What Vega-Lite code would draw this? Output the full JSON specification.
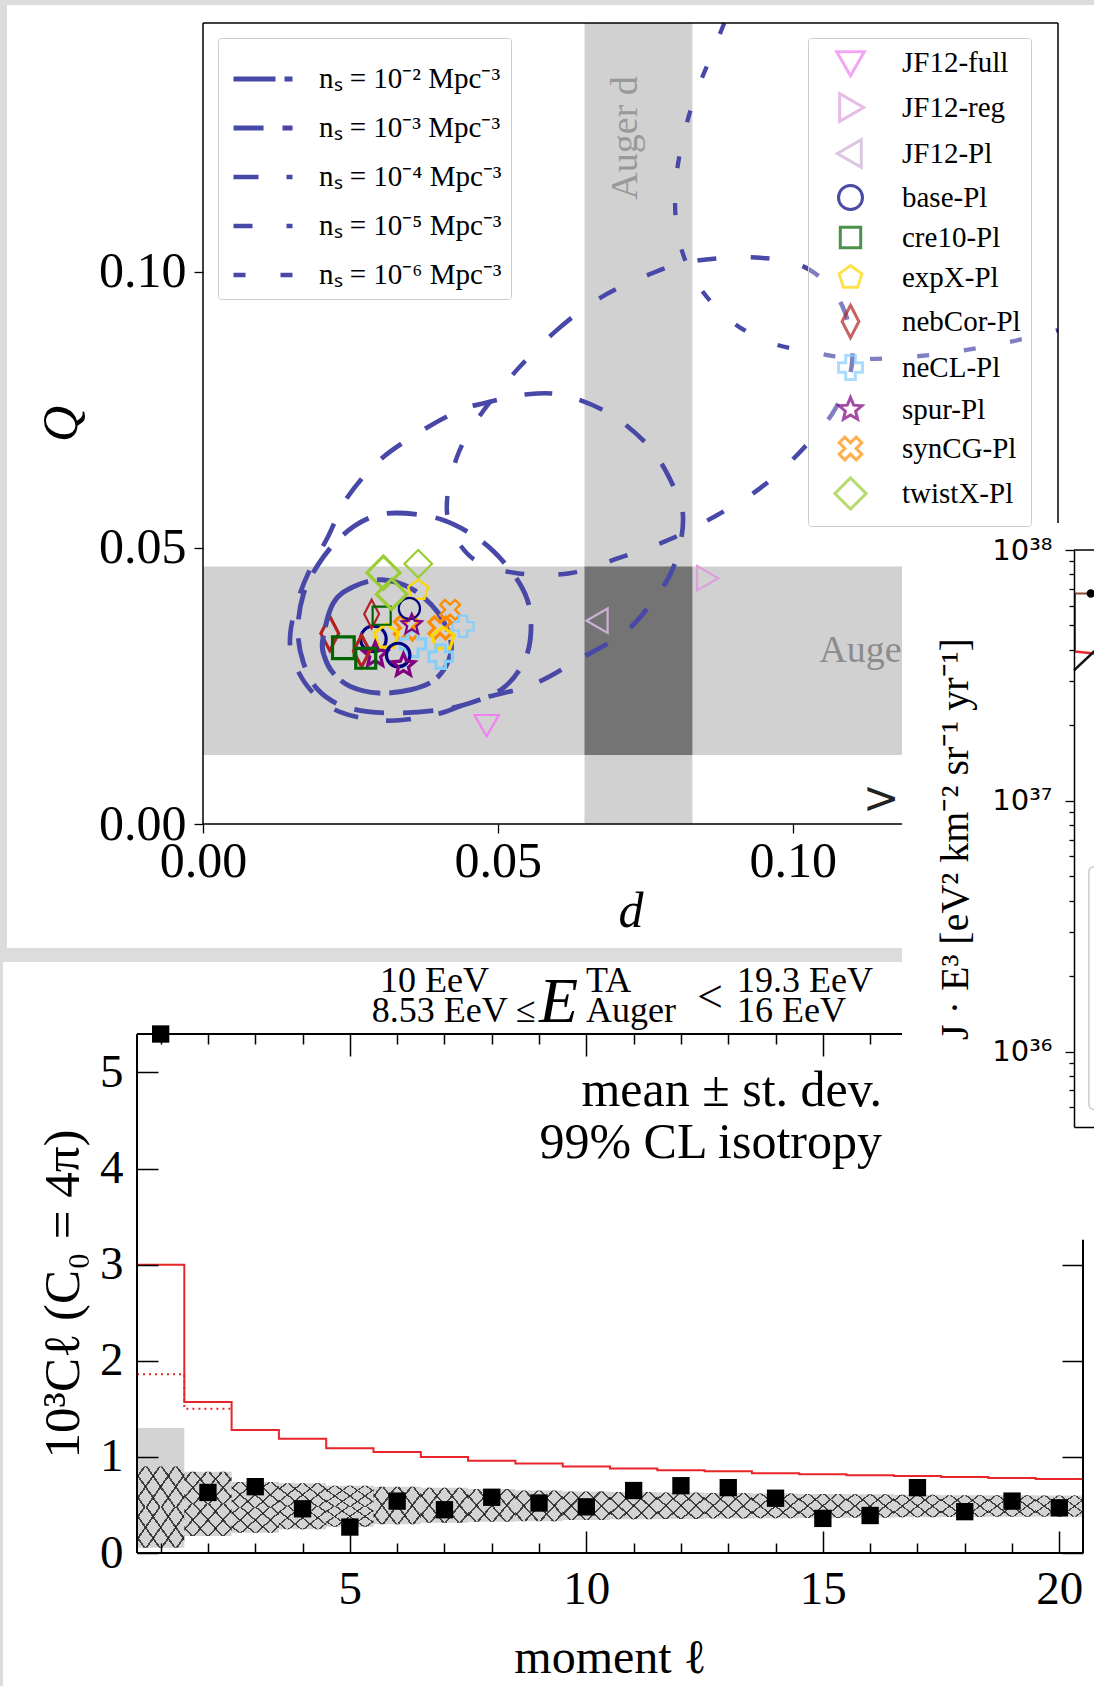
{
"$schema":"https://vega.github.io/schema/vega-lite/v6.json",
"width":1094,"height":1686,"autosize":"none","padding":0,"background":"white",
"config":{"view":{"stroke":null},"font":"Liberation Serif","axis":{"grid":false,"labelColor":"black","tickColor":"black","domainColor":"black","titleColor":"black","titleFontWeight":"normal","labelFont":"Liberation Serif","titleFont":"Liberation Serif"}},
"datasets":{
"models":[
{"model":"twistX-Pl","set":"c","x":0.0306,"y":0.0455},
{"model":"twistX-Pl","set":"a","x":0.0365,"y":0.0471},
{"model":"twistX-Pl","set":"b","x":0.0320,"y":0.0416},
{"model":"expX-Pl","set":"a","x":0.0365,"y":0.0423},
{"model":"base-Pl","set":"a","x":0.0350,"y":0.0390},
{"model":"nebCor-Pl","set":"a","x":0.0286,"y":0.0380},
{"model":"cre10-Pl","set":"a","x":0.0303,"y":0.0377},
{"model":"spur-Pl","set":"a","x":0.0354,"y":0.0361},
{"model":"synCG-Pl","set":"c","x":0.0345,"y":0.0355},
{"model":"synCG-Pl","set":"a","x":0.0419,"y":0.0388},
{"model":"synCG-Pl","set":"b","x":0.0402,"y":0.0355},
{"model":"neCL-Pl","set":"a","x":0.0441,"y":0.0358},
{"model":"nebCor-Pl","set":"c","x":0.0215,"y":0.0345},
{"model":"cre10-Pl","set":"c","x":0.0238,"y":0.0319},
{"model":"base-Pl","set":"c","x":0.0289,"y":0.0335},
{"model":"expX-Pl","set":"c","x":0.0311,"y":0.0339},
{"model":"neCL-Pl","set":"c","x":0.0356,"y":0.0326},
{"model":"nebCor-Pl","set":"b","x":0.0269,"y":0.0313},
{"model":"cre10-Pl","set":"b","x":0.0276,"y":0.0300},
{"model":"spur-Pl","set":"c","x":0.0292,"y":0.0306},
{"model":"base-Pl","set":"b","x":0.0331,"y":0.0306},
{"model":"spur-Pl","set":"b","x":0.0340,"y":0.0287},
{"model":"expX-Pl","set":"b","x":0.0407,"y":0.0335},
{"model":"neCL-Pl","set":"b","x":0.0403,"y":0.0303},
{"model":"JF12-full","set":"a","x":0.0481,"y":0.0180},
{"model":"JF12-Pl","set":"a","x":0.0670,"y":0.0368},
{"model":"JF12-reg","set":"a","x":0.0854,"y":0.0445}
],
"loops":[
{"ns":"nₛ = 10⁻² Mpc⁻³","i":0,"x":0.0203,"y":0.0333},
{"ns":"nₛ = 10⁻² Mpc⁻³","i":1,"x":0.0221,"y":0.0400},
{"ns":"nₛ = 10⁻² Mpc⁻³","i":2,"x":0.0256,"y":0.0430},
{"ns":"nₛ = 10⁻² Mpc⁻³","i":3,"x":0.0304,"y":0.0442},
{"ns":"nₛ = 10⁻² Mpc⁻³","i":4,"x":0.0357,"y":0.0424},
{"ns":"nₛ = 10⁻² Mpc⁻³","i":5,"x":0.0399,"y":0.0382},
{"ns":"nₛ = 10⁻² Mpc⁻³","i":6,"x":0.0420,"y":0.0333},
{"ns":"nₛ = 10⁻² Mpc⁻³","i":7,"x":0.0417,"y":0.0297},
{"ns":"nₛ = 10⁻² Mpc⁻³","i":8,"x":0.0393,"y":0.0261},
{"ns":"nₛ = 10⁻² Mpc⁻³","i":9,"x":0.0352,"y":0.0243},
{"ns":"nₛ = 10⁻² Mpc⁻³","i":10,"x":0.0298,"y":0.0237},
{"ns":"nₛ = 10⁻² Mpc⁻³","i":11,"x":0.0250,"y":0.0249},
{"ns":"nₛ = 10⁻² Mpc⁻³","i":12,"x":0.0221,"y":0.0273},
{"ns":"nₛ = 10⁻² Mpc⁻³","i":13,"x":0.0206,"y":0.0303},
{"ns":"nₛ = 10⁻³ Mpc⁻³","i":0,"x":0.0327,"y":0.0563},
{"ns":"nₛ = 10⁻³ Mpc⁻³","i":1,"x":0.0402,"y":0.0552},
{"ns":"nₛ = 10⁻³ Mpc⁻³","i":2,"x":0.0470,"y":0.0514},
{"ns":"nₛ = 10⁻³ Mpc⁻³","i":3,"x":0.0521,"y":0.0460},
{"ns":"nₛ = 10⁻³ Mpc⁻³","i":4,"x":0.0550,"y":0.0406},
{"ns":"nₛ = 10⁻³ Mpc⁻³","i":5,"x":0.0556,"y":0.0346},
{"ns":"nₛ = 10⁻³ Mpc⁻³","i":6,"x":0.0544,"y":0.0293},
{"ns":"nₛ = 10⁻³ Mpc⁻³","i":7,"x":0.0509,"y":0.0246},
{"ns":"nₛ = 10⁻³ Mpc⁻³","i":8,"x":0.0453,"y":0.0219},
{"ns":"nₛ = 10⁻³ Mpc⁻³","i":9,"x":0.0397,"y":0.0206},
{"ns":"nₛ = 10⁻³ Mpc⁻³","i":10,"x":0.0310,"y":0.0201},
{"ns":"nₛ = 10⁻³ Mpc⁻³","i":11,"x":0.0241,"y":0.0212},
{"ns":"nₛ = 10⁻³ Mpc⁻³","i":12,"x":0.0195,"y":0.0243},
{"ns":"nₛ = 10⁻³ Mpc⁻³","i":13,"x":0.0170,"y":0.0293},
{"ns":"nₛ = 10⁻³ Mpc⁻³","i":14,"x":0.0161,"y":0.0351},
{"ns":"nₛ = 10⁻³ Mpc⁻³","i":15,"x":0.0170,"y":0.0415},
{"ns":"nₛ = 10⁻³ Mpc⁻³","i":16,"x":0.0195,"y":0.0469},
{"ns":"nₛ = 10⁻³ Mpc⁻³","i":17,"x":0.0232,"y":0.0518},
{"ns":"nₛ = 10⁻³ Mpc⁻³","i":18,"x":0.0278,"y":0.0552},
{"ns":"nₛ = 10⁻⁴ Mpc⁻³","i":0,"x":0.0478,"y":0.0762},
{"ns":"nₛ = 10⁻⁴ Mpc⁻³","i":1,"x":0.0550,"y":0.0778},
{"ns":"nₛ = 10⁻⁴ Mpc⁻³","i":2,"x":0.0616,"y":0.0775},
{"ns":"nₛ = 10⁻⁴ Mpc⁻³","i":3,"x":0.0695,"y":0.0739},
{"ns":"nₛ = 10⁻⁴ Mpc⁻³","i":4,"x":0.0763,"y":0.0675},
{"ns":"nₛ = 10⁻⁴ Mpc⁻³","i":5,"x":0.0804,"y":0.0597},
{"ns":"nₛ = 10⁻⁴ Mpc⁻³","i":6,"x":0.0814,"y":0.0558},
{"ns":"nₛ = 10⁻⁴ Mpc⁻³","i":7,"x":0.0809,"y":0.0505},
{"ns":"nₛ = 10⁻⁴ Mpc⁻³","i":8,"x":0.0792,"y":0.0451},
{"ns":"nₛ = 10⁻⁴ Mpc⁻³","i":9,"x":0.0758,"y":0.0396},
{"ns":"nₛ = 10⁻⁴ Mpc⁻³","i":10,"x":0.0712,"y":0.0344},
{"ns":"nₛ = 10⁻⁴ Mpc⁻³","i":11,"x":0.0639,"y":0.0299},
{"ns":"nₛ = 10⁻⁴ Mpc⁻³","i":12,"x":0.0560,"y":0.0253},
{"ns":"nₛ = 10⁻⁴ Mpc⁻³","i":13,"x":0.0465,"y":0.0225},
{"ns":"nₛ = 10⁻⁴ Mpc⁻³","i":14,"x":0.0397,"y":0.0199},
{"ns":"nₛ = 10⁻⁴ Mpc⁻³","i":15,"x":0.0312,"y":0.0187},
{"ns":"nₛ = 10⁻⁴ Mpc⁻³","i":16,"x":0.0232,"y":0.0203},
{"ns":"nₛ = 10⁻⁴ Mpc⁻³","i":17,"x":0.0182,"y":0.0243},
{"ns":"nₛ = 10⁻⁴ Mpc⁻³","i":18,"x":0.0153,"y":0.0297},
{"ns":"nₛ = 10⁻⁴ Mpc⁻³","i":19,"x":0.0148,"y":0.0344},
{"ns":"nₛ = 10⁻⁴ Mpc⁻³","i":20,"x":0.0161,"y":0.0406},
{"ns":"nₛ = 10⁻⁴ Mpc⁻³","i":21,"x":0.0182,"y":0.0462},
{"ns":"nₛ = 10⁻⁴ Mpc⁻³","i":22,"x":0.0212,"y":0.0520},
{"ns":"nₛ = 10⁻⁴ Mpc⁻³","i":23,"x":0.0244,"y":0.0590},
{"ns":"nₛ = 10⁻⁴ Mpc⁻³","i":24,"x":0.0300,"y":0.0659},
{"ns":"nₛ = 10⁻⁴ Mpc⁻³","i":25,"x":0.0373,"y":0.0713},
{"ns":"nₛ = 10⁻⁴ Mpc⁻³","i":26,"x":0.0436,"y":0.0749},
{"ns":"nₛ = 10⁻⁵ Mpc⁻³","i":0,"x":0.0529,"y":0.0818},
{"ns":"nₛ = 10⁻⁵ Mpc⁻³","i":1,"x":0.0600,"y":0.0894},
{"ns":"nₛ = 10⁻⁵ Mpc⁻³","i":2,"x":0.0673,"y":0.0952},
{"ns":"nₛ = 10⁻⁵ Mpc⁻³","i":3,"x":0.0755,"y":0.0994},
{"ns":"nₛ = 10⁻⁵ Mpc⁻³","i":4,"x":0.0831,"y":0.1019},
{"ns":"nₛ = 10⁻⁵ Mpc⁻³","i":5,"x":0.0945,"y":0.1025},
{"ns":"nₛ = 10⁻⁵ Mpc⁻³","i":6,"x":0.1029,"y":0.1003},
{"ns":"nₛ = 10⁻⁵ Mpc⁻³","i":7,"x":0.1085,"y":0.0936},
{"ns":"nₛ = 10⁻⁵ Mpc⁻³","i":8,"x":0.1101,"y":0.0838},
{"ns":"nₛ = 10⁻⁵ Mpc⁻³","i":9,"x":0.1072,"y":0.0751},
{"ns":"nₛ = 10⁻⁵ Mpc⁻³","i":10,"x":0.1012,"y":0.0673},
{"ns":"nₛ = 10⁻⁵ Mpc⁻³","i":11,"x":0.0945,"y":0.0608},
{"ns":"nₛ = 10⁻⁵ Mpc⁻³","i":12,"x":0.0870,"y":0.0558},
{"ns":"nₛ = 10⁻⁵ Mpc⁻³","i":13,"x":0.0789,"y":0.0514},
{"ns":"nₛ = 10⁻⁵ Mpc⁻³","i":14,"x":0.0707,"y":0.0482},
{"ns":"nₛ = 10⁻⁵ Mpc⁻³","i":15,"x":0.0622,"y":0.0454},
{"ns":"nₛ = 10⁻⁵ Mpc⁻³","i":16,"x":0.0533,"y":0.0454},
{"ns":"nₛ = 10⁻⁵ Mpc⁻³","i":17,"x":0.0461,"y":0.0478},
{"ns":"nₛ = 10⁻⁵ Mpc⁻³","i":18,"x":0.0422,"y":0.0532},
{"ns":"nₛ = 10⁻⁵ Mpc⁻³","i":19,"x":0.0414,"y":0.0587},
{"ns":"nₛ = 10⁻⁵ Mpc⁻³","i":20,"x":0.0432,"y":0.0668},
{"ns":"nₛ = 10⁻⁵ Mpc⁻³","i":21,"x":0.0470,"y":0.0740}
],
"open":[
{"ns":"nₛ = 10⁻⁶ Mpc⁻³","i":0,"x":0.0884,"y":0.1450},
{"ns":"nₛ = 10⁻⁶ Mpc⁻³","i":1,"x":0.0865,"y":0.1399},
{"ns":"nₛ = 10⁻⁶ Mpc⁻³","i":2,"x":0.0834,"y":0.1316},
{"ns":"nₛ = 10⁻⁶ Mpc⁻³","i":3,"x":0.0812,"y":0.1231},
{"ns":"nₛ = 10⁻⁶ Mpc⁻³","i":4,"x":0.0801,"y":0.1148},
{"ns":"nₛ = 10⁻⁶ Mpc⁻³","i":5,"x":0.0806,"y":0.1063},
{"ns":"nₛ = 10⁻⁶ Mpc⁻³","i":6,"x":0.0834,"y":0.0985},
{"ns":"nₛ = 10⁻⁶ Mpc⁻³","i":7,"x":0.0889,"y":0.0916},
{"ns":"nₛ = 10⁻⁶ Mpc⁻³","i":8,"x":0.0958,"y":0.0873},
{"ns":"nₛ = 10⁻⁶ Mpc⁻³","i":9,"x":0.1038,"y":0.0853},
{"ns":"nₛ = 10⁻⁶ Mpc⁻³","i":10,"x":0.1114,"y":0.0842},
{"ns":"nₛ = 10⁻⁶ Mpc⁻³","i":11,"x":0.1233,"y":0.0849},
{"ns":"nₛ = 10⁻⁶ Mpc⁻³","i":12,"x":0.1352,"y":0.0869},
{"ns":"nₛ = 10⁻⁶ Mpc⁻³","i":13,"x":0.1450,"y":0.0894}
],
"band2":[
{"x":0.5,"x2":1.5,"y":0.055,"y2":1.30},
{"x":1.5,"x2":2.5,"y":0.177,"y2":0.846},
{"x":2.5,"x2":3.5,"y":0.21,"y2":0.74},
{"x":3.5,"x2":4.5,"y":0.246,"y2":0.725},
{"x":4.5,"x2":5.5,"y":0.274,"y2":0.70},
{"x":5.5,"x2":6.5,"y":0.30,"y2":0.69},
{"x":6.5,"x2":7.5,"y":0.315,"y2":0.68},
{"x":7.5,"x2":8.5,"y":0.325,"y2":0.665},
{"x":8.5,"x2":9.5,"y":0.33,"y2":0.65},
{"x":9.5,"x2":10.5,"y":0.343,"y2":0.64},
{"x":10.5,"x2":11.5,"y":0.35,"y2":0.635},
{"x":11.5,"x2":12.5,"y":0.355,"y2":0.63},
{"x":12.5,"x2":13.5,"y":0.358,"y2":0.625},
{"x":13.5,"x2":14.5,"y":0.362,"y2":0.618},
{"x":14.5,"x2":15.5,"y":0.365,"y2":0.615},
{"x":15.5,"x2":16.5,"y":0.368,"y2":0.61},
{"x":16.5,"x2":17.5,"y":0.372,"y2":0.605},
{"x":17.5,"x2":18.5,"y":0.375,"y2":0.602},
{"x":18.5,"x2":19.5,"y":0.377,"y2":0.60},
{"x":19.5,"x2":20.5,"y":0.378,"y2":0.598}
],
"hatch2":[
{"x":0.5,"x2":1.5,"y":0.055,"y2":0.4775},
{"x":0.5,"x2":1.5,"y":0.4775,"y2":0.90},
{"x":1.5,"x2":2.5,"y":0.177,"y2":0.5115},
{"x":1.5,"x2":2.5,"y":0.5115,"y2":0.846},
{"x":2.5,"x2":3.5,"y":0.21,"y2":0.475},
{"x":2.5,"x2":3.5,"y":0.475,"y2":0.74},
{"x":3.5,"x2":4.5,"y":0.246,"y2":0.4855},
{"x":3.5,"x2":4.5,"y":0.4855,"y2":0.725},
{"x":4.5,"x2":5.5,"y":0.274,"y2":0.487},
{"x":4.5,"x2":5.5,"y":0.487,"y2":0.70},
{"x":5.5,"x2":6.5,"y":0.30,"y2":0.69},
{"x":6.5,"x2":7.5,"y":0.315,"y2":0.68},
{"x":7.5,"x2":8.5,"y":0.325,"y2":0.665},
{"x":8.5,"x2":9.5,"y":0.33,"y2":0.65},
{"x":9.5,"x2":10.5,"y":0.343,"y2":0.64},
{"x":10.5,"x2":11.5,"y":0.35,"y2":0.635},
{"x":11.5,"x2":12.5,"y":0.355,"y2":0.63},
{"x":12.5,"x2":13.5,"y":0.358,"y2":0.625},
{"x":13.5,"x2":14.5,"y":0.362,"y2":0.618},
{"x":14.5,"x2":15.5,"y":0.365,"y2":0.615},
{"x":15.5,"x2":16.5,"y":0.368,"y2":0.61},
{"x":16.5,"x2":17.5,"y":0.372,"y2":0.605},
{"x":17.5,"x2":18.5,"y":0.375,"y2":0.602},
{"x":18.5,"x2":19.5,"y":0.377,"y2":0.60},
{"x":19.5,"x2":20.5,"y":0.378,"y2":0.598}
],
"cl":[
{"x":1,"y":5.4},{"x":2,"y":0.63},{"x":3,"y":0.69},{"x":4,"y":0.46},{"x":5,"y":0.27},
{"x":6,"y":0.54},{"x":7,"y":0.45},{"x":8,"y":0.58},{"x":9,"y":0.52},{"x":10,"y":0.48},
{"x":11,"y":0.65},{"x":12,"y":0.70},{"x":13,"y":0.68},{"x":14,"y":0.57},{"x":15,"y":0.36},
{"x":16,"y":0.39},{"x":17,"y":0.68},{"x":18,"y":0.43},{"x":19,"y":0.54},{"x":20,"y":0.47}
],
"red":[
{"x":0.5,"y":3.0},{"x":1.5,"y":1.57},{"x":2.5,"y":1.28},{"x":3.5,"y":1.19},{"x":4.5,"y":1.09},
{"x":5.5,"y":1.05},{"x":6.5,"y":1.0},{"x":7.5,"y":0.96},{"x":8.5,"y":0.93},{"x":9.5,"y":0.90},
{"x":10.5,"y":0.88},{"x":11.5,"y":0.86},{"x":12.5,"y":0.85},{"x":13.5,"y":0.83},{"x":14.5,"y":0.82},
{"x":15.5,"y":0.81},{"x":16.5,"y":0.80},{"x":17.5,"y":0.79},{"x":18.5,"y":0.78},{"x":19.5,"y":0.77},{"x":20.5,"y":0.77}
],
"reddot":[
{"x":0.5,"y":1.86},{"x":1.5,"y":1.50},{"x":2.5,"y":1.50}
]
},
"layer":[
{
"encoding":{
"x":{"field":"x","type":"quantitative","scale":{"domain":[0,0.145],"range":[203,1058],"nice":false,"zero":false},
"axis":{"orient":"bottom","offset":-862,"values":[0,0.05,0.1],"format":".2f","domain":false,"tickSize":9,"tickWidth":1.3,"labelFontSize":50,"labelPadding":3,"labelFlush":false,"labelOverlap":false,"title":"d","titleFontSize":50,"titleFontStyle":"italic","titlePadding":0}},
"y":{"field":"y","type":"quantitative","scale":{"domain":[0,0.145],"range":[824,23],"nice":false,"zero":false},
"axis":{"orient":"left","offset":-203,"values":[0,0.05,0.1],"format":".2f","domain":false,"tickSize":9,"tickWidth":1.3,"labelFontSize":50,"labelPadding":8,"labelOverlap":false,"title":"Q","titleFontSize":50,"titleFontStyle":"italic","titlePadding":12}}
},
"layer":[
{"data":{"values":[
{"x":-0.04,"x2":0.16,"y":0.14826,"y2":0.152},
{"x":-0.04,"x2":-0.03324,"y":-0.02245,"y2":0.152},
{"x":-0.04,"x2":0.11854,"y":-0.02498,"y2":-0.02245}]},
"mark":{"type":"rect","fill":"#dcdcdc"},"encoding":{"x2":{"field":"x2"},"y2":{"field":"y2"}}},
{"data":{"values":[
{"x":0,"x2":0.145,"y":0.0125,"y2":0.0466},
{"x":0.0647,"x2":0.083,"y":0,"y2":0.145}]},
"mark":{"type":"rect","fill":"#d1d1d1"},"encoding":{"x2":{"field":"x2"},"y2":{"field":"y2"}}},
{"data":{"values":[{"x":0.0647,"x2":0.083,"y":0.0125,"y2":0.0466}]},
"mark":{"type":"rect","fill":"#747474"},"encoding":{"x2":{"field":"x2"},"y2":{"field":"y2"}}},
{"data":{"values":[{"x":0.0717,"y":0.1242,"t":"Auger d"}]},
"mark":{"type":"text","angle":270,"fontSize":38,"font":"Liberation Serif","color":"#999999","align":"center","baseline":"middle"},"encoding":{"text":{"field":"t"}}},
{"data":{"values":[{"x":0.1045,"y":0.0293,"t":"Auger Q"}]},
"mark":{"type":"text","fontSize":38,"font":"Liberation Serif","color":"#8c8c8c","align":"left","baseline":"alphabetic"},"encoding":{"text":{"field":"t"}}},
{"data":{"values":[{"x":0.115,"y":0.0043,"t":">"}]},
"mark":{"type":"text","fontSize":44,"font":"DejaVu Sans","color":"#222222","align":"center","baseline":"middle"},"encoding":{"text":{"field":"t"}}},
{"data":{"name":"models"},"transform":[{"filter":"datum.set == 'c'"}],
"mark":{"type":"point","filled":false,"strokeWidth":3.2},
"encoding":{
"shape":{"field":"model","type":"nominal","scale":{"domain":["JF12-full","JF12-reg","JF12-Pl","base-Pl","cre10-Pl","expX-Pl","nebCor-Pl","neCL-Pl","spur-Pl","synCG-Pl","twistX-Pl"],"range":["M0,1.1L-1.15,-0.9L1.15,-0.9Z","M1.1,0L-0.9,-1.15L-0.9,1.15Z","M-1.1,0L0.9,-1.15L0.9,1.15Z","M1,0A1,1,0,1,1,-1,0A1,1,0,1,1,1,0Z","M-0.85,-0.85L0.85,-0.85L0.85,0.85L-0.85,0.85Z","M0,-1L0.951,-0.309L0.588,0.809L-0.588,0.809L-0.951,-0.309Z","M0,-1.35L0.7,0L0,1.35L-0.7,0Z","cross","M0,-1L0.265,-0.364L0.951,-0.309L0.428,0.139L0.588,0.809L0,0.45L-0.588,0.809L-0.428,0.139L-0.951,-0.309L-0.265,-0.364Z","M0.474,-0.941L0.941,-0.474L0.467,0L0.941,0.474L0.474,0.941L0,0.467L-0.474,0.941L-0.941,0.474L-0.467,0L-0.941,-0.474L-0.474,-0.941L0,-0.467Z","M0,-1.3L1.3,0L0,1.3L-1.3,0Z"]},
"legend":{"orient":"none","legendX":808,"legendY":38,"title":null,"symbolSize":576,"symbolStrokeWidth":3,"labelFontSize":29,"labelFont":"Liberation Serif","labelColor":"black","rowPadding":5,"labelOffset":37,"padding":10,"strokeColor":"#cccccc","fillColor":"rgba(255,255,255,0.3)","cornerRadius":3,"symbolOffset":18,"labelLimit":300}},
"color":{"field":"model","type":"nominal","scale":{"domain":["JF12-full","JF12-reg","JF12-Pl","base-Pl","cre10-Pl","expX-Pl","nebCor-Pl","neCL-Pl","spur-Pl","synCG-Pl","twistX-Pl"],"range":["#ee82ee","#dda0dd","#cdb0d6","#000080","#006400","#ffd700","#b22222","#87cefa","#800080","#ff8c00","#9acd32"]},
"legend":{"orient":"none","legendX":808,"legendY":38,"title":null,"symbolSize":576,"symbolStrokeWidth":3,"labelFontSize":29,"labelFont":"Liberation Serif","labelColor":"black","rowPadding":5,"labelOffset":37,"padding":10,"strokeColor":"#cccccc","fillColor":"rgba(255,255,255,0.3)","cornerRadius":3,"symbolOffset":18,"labelLimit":300}},
"size":{"field":"set","type":"ordinal","scale":{"domain":["a","b","c"],"range":[450,650,760]},"legend":null},
"opacity":{"field":"set","type":"ordinal","scale":{"domain":["a","b","c"],"range":[1,1,0.5]},"legend":null}
}},
{"data":{"name":"loops"},"mark":{"type":"line","interpolate":"cardinal-closed","color":"#4848a8"},
"encoding":{"order":{"field":"i","type":"quantitative"},
"strokeDash":{"field":"ns","type":"ordinal","scale":{"domain":["nₛ = 10⁻² Mpc⁻³","nₛ = 10⁻³ Mpc⁻³","nₛ = 10⁻⁴ Mpc⁻³","nₛ = 10⁻⁵ Mpc⁻³","nₛ = 10⁻⁶ Mpc⁻³"],"range":[[42,9],[30,19],[25,28],[19,34],[12,35]]},
"legend":{"orient":"none","legendX":218,"legendY":38,"title":null,"symbolType":"stroke","symbolSize":3481,"symbolStrokeColor":"#4848a8","labelFontSize":29,"labelFont":"Liberation Serif","labelColor":"black","rowPadding":2,"labelOffset":24,"padding":9,"strokeColor":"#cccccc","fillColor":"rgba(255,255,255,0.85)","cornerRadius":3,"symbolOffset":4,"labelLimit":400}},
"strokeWidth":{"field":"ns","type":"ordinal","scale":{"domain":["nₛ = 10⁻² Mpc⁻³","nₛ = 10⁻³ Mpc⁻³","nₛ = 10⁻⁴ Mpc⁻³","nₛ = 10⁻⁵ Mpc⁻³","nₛ = 10⁻⁶ Mpc⁻³"],"range":[5,4.3,3.6,3,2.4]},
"legend":{"orient":"none","legendX":218,"legendY":38,"title":null,"symbolType":"stroke","symbolSize":3481,"symbolStrokeColor":"#4848a8","labelFontSize":29,"labelFont":"Liberation Serif","labelColor":"black","rowPadding":2,"labelOffset":24,"padding":9,"strokeColor":"#cccccc","fillColor":"rgba(255,255,255,0.85)","cornerRadius":3,"symbolOffset":4,"labelLimit":400}}
}},
{"data":{"name":"open"},"mark":{"type":"line","interpolate":"cardinal","color":"#4848a8"},
"encoding":{"order":{"field":"i","type":"quantitative"},
"strokeDash":{"field":"ns","type":"ordinal","scale":{"domain":["nₛ = 10⁻² Mpc⁻³","nₛ = 10⁻³ Mpc⁻³","nₛ = 10⁻⁴ Mpc⁻³","nₛ = 10⁻⁵ Mpc⁻³","nₛ = 10⁻⁶ Mpc⁻³"],"range":[[42,9],[30,19],[25,28],[19,34],[12,35]]},
"legend":{"orient":"none","legendX":218,"legendY":38,"title":null,"symbolType":"stroke","symbolSize":3481,"symbolStrokeColor":"#4848a8","labelFontSize":29,"labelFont":"Liberation Serif","labelColor":"black","rowPadding":2,"labelOffset":24,"padding":9,"strokeColor":"#cccccc","fillColor":"rgba(255,255,255,0.85)","cornerRadius":3,"symbolOffset":4,"labelLimit":400}},
"strokeWidth":{"field":"ns","type":"ordinal","scale":{"domain":["nₛ = 10⁻² Mpc⁻³","nₛ = 10⁻³ Mpc⁻³","nₛ = 10⁻⁴ Mpc⁻³","nₛ = 10⁻⁵ Mpc⁻³","nₛ = 10⁻⁶ Mpc⁻³"],"range":[5,4.3,3.6,3,2.4]},
"legend":{"orient":"none","legendX":218,"legendY":38,"title":null,"symbolType":"stroke","symbolSize":3481,"symbolStrokeColor":"#4848a8","labelFontSize":29,"labelFont":"Liberation Serif","labelColor":"black","rowPadding":2,"labelOffset":24,"padding":9,"strokeColor":"#cccccc","fillColor":"rgba(255,255,255,0.85)","cornerRadius":3,"symbolOffset":4,"labelLimit":400}}
}},
{"data":{"name":"models"},"transform":[{"filter":"datum.set == 'a'"}],
"mark":{"type":"point","filled":false,"strokeWidth":2.2},
"encoding":{
"shape":{"field":"model","type":"nominal","scale":{"domain":["JF12-full","JF12-reg","JF12-Pl","base-Pl","cre10-Pl","expX-Pl","nebCor-Pl","neCL-Pl","spur-Pl","synCG-Pl","twistX-Pl"],"range":["M0,1.1L-1.15,-0.9L1.15,-0.9Z","M1.1,0L-0.9,-1.15L-0.9,1.15Z","M-1.1,0L0.9,-1.15L0.9,1.15Z","M1,0A1,1,0,1,1,-1,0A1,1,0,1,1,1,0Z","M-0.85,-0.85L0.85,-0.85L0.85,0.85L-0.85,0.85Z","M0,-1L0.951,-0.309L0.588,0.809L-0.588,0.809L-0.951,-0.309Z","M0,-1.35L0.7,0L0,1.35L-0.7,0Z","cross","M0,-1L0.265,-0.364L0.951,-0.309L0.428,0.139L0.588,0.809L0,0.45L-0.588,0.809L-0.428,0.139L-0.951,-0.309L-0.265,-0.364Z","M0.474,-0.941L0.941,-0.474L0.467,0L0.941,0.474L0.474,0.941L0,0.467L-0.474,0.941L-0.941,0.474L-0.467,0L-0.941,-0.474L-0.474,-0.941L0,-0.467Z","M0,-1.3L1.3,0L0,1.3L-1.3,0Z"]},
"legend":{"orient":"none","legendX":808,"legendY":38,"title":null,"symbolSize":576,"symbolStrokeWidth":3,"labelFontSize":29,"labelFont":"Liberation Serif","labelColor":"black","rowPadding":5,"labelOffset":37,"padding":10,"strokeColor":"#cccccc","fillColor":"rgba(255,255,255,0.3)","cornerRadius":3,"symbolOffset":18,"labelLimit":300}},
"color":{"field":"model","type":"nominal","scale":{"domain":["JF12-full","JF12-reg","JF12-Pl","base-Pl","cre10-Pl","expX-Pl","nebCor-Pl","neCL-Pl","spur-Pl","synCG-Pl","twistX-Pl"],"range":["#ee82ee","#dda0dd","#cdb0d6","#000080","#006400","#ffd700","#b22222","#87cefa","#800080","#ff8c00","#9acd32"]},
"legend":{"orient":"none","legendX":808,"legendY":38,"title":null,"symbolSize":576,"symbolStrokeWidth":3,"labelFontSize":29,"labelFont":"Liberation Serif","labelColor":"black","rowPadding":5,"labelOffset":37,"padding":10,"strokeColor":"#cccccc","fillColor":"rgba(255,255,255,0.3)","cornerRadius":3,"symbolOffset":18,"labelLimit":300}},
"size":{"field":"set","type":"ordinal","scale":{"domain":["a","b","c"],"range":[450,650,760]},"legend":null},
"opacity":{"field":"set","type":"ordinal","scale":{"domain":["a","b","c"],"range":[1,1,0.5]},"legend":null}
}},
{"data":{"name":"models"},"transform":[{"filter":"datum.set == 'b'"}],
"mark":{"type":"point","filled":false,"strokeWidth":3.2},
"encoding":{
"shape":{"field":"model","type":"nominal","scale":{"domain":["JF12-full","JF12-reg","JF12-Pl","base-Pl","cre10-Pl","expX-Pl","nebCor-Pl","neCL-Pl","spur-Pl","synCG-Pl","twistX-Pl"],"range":["M0,1.1L-1.15,-0.9L1.15,-0.9Z","M1.1,0L-0.9,-1.15L-0.9,1.15Z","M-1.1,0L0.9,-1.15L0.9,1.15Z","M1,0A1,1,0,1,1,-1,0A1,1,0,1,1,1,0Z","M-0.85,-0.85L0.85,-0.85L0.85,0.85L-0.85,0.85Z","M0,-1L0.951,-0.309L0.588,0.809L-0.588,0.809L-0.951,-0.309Z","M0,-1.35L0.7,0L0,1.35L-0.7,0Z","cross","M0,-1L0.265,-0.364L0.951,-0.309L0.428,0.139L0.588,0.809L0,0.45L-0.588,0.809L-0.428,0.139L-0.951,-0.309L-0.265,-0.364Z","M0.474,-0.941L0.941,-0.474L0.467,0L0.941,0.474L0.474,0.941L0,0.467L-0.474,0.941L-0.941,0.474L-0.467,0L-0.941,-0.474L-0.474,-0.941L0,-0.467Z","M0,-1.3L1.3,0L0,1.3L-1.3,0Z"]},
"legend":{"orient":"none","legendX":808,"legendY":38,"title":null,"symbolSize":576,"symbolStrokeWidth":3,"labelFontSize":29,"labelFont":"Liberation Serif","labelColor":"black","rowPadding":5,"labelOffset":37,"padding":10,"strokeColor":"#cccccc","fillColor":"rgba(255,255,255,0.3)","cornerRadius":3,"symbolOffset":18,"labelLimit":300}},
"color":{"field":"model","type":"nominal","scale":{"domain":["JF12-full","JF12-reg","JF12-Pl","base-Pl","cre10-Pl","expX-Pl","nebCor-Pl","neCL-Pl","spur-Pl","synCG-Pl","twistX-Pl"],"range":["#ee82ee","#dda0dd","#cdb0d6","#000080","#006400","#ffd700","#b22222","#87cefa","#800080","#ff8c00","#9acd32"]},
"legend":{"orient":"none","legendX":808,"legendY":38,"title":null,"symbolSize":576,"symbolStrokeWidth":3,"labelFontSize":29,"labelFont":"Liberation Serif","labelColor":"black","rowPadding":5,"labelOffset":37,"padding":10,"strokeColor":"#cccccc","fillColor":"rgba(255,255,255,0.3)","cornerRadius":3,"symbolOffset":18,"labelLimit":300}},
"size":{"field":"set","type":"ordinal","scale":{"domain":["a","b","c"],"range":[450,650,760]},"legend":null},
"opacity":{"field":"set","type":"ordinal","scale":{"domain":["a","b","c"],"range":[1,1,0.5]},"legend":null}
}},
{"data":{"values":[
{"x":0,"y":0,"x2":0.145,"y2":0},
{"x":0,"y":0,"x2":0,"y2":0.145},
{"x":0,"y":0.145,"x2":0.145,"y2":0.145},
{"x":0.145,"y":0,"x2":0.145,"y2":0.145}]},
"mark":{"type":"rule","color":"black","strokeWidth":1.5},"encoding":{"x2":{"field":"x2"},"y2":{"field":"y2"}}}
]
},
{
"layer":[
{
"encoding":{
"x":{"field":"x","type":"quantitative","scale":{"domain":[0.5,20.5],"range":[137,1083],"nice":false,"zero":false},
"axis":{"orient":"bottom","offset":-133,"zindex":1,"values":[1,2,3,4,5,6,7,8,9,10,11,12,13,14,15,16,17,18,19,20],"labelExpr":"datum.value % 5 == 0 ? datum.label : ''","domain":false,"tickWidth":1.5,"tickSize":{"condition":{"test":"datum.value % 5 == 0","value":-22},"value":-10},"labelPadding":35,"labelFontSize":47,"labelFlush":false,"labelOverlap":false,"title":"moment ℓ","titleFontSize":48,"titlePadding":10}},
"y":{"field":"y","type":"quantitative","scale":{"domain":[0,5.4],"range":[1553,1034],"nice":false,"zero":false},
"axis":{"orient":"left","offset":-137,"zindex":1,"values":[0,1,2,3,4,5],"domain":false,"tickWidth":1.5,"tickSize":-21,"labelPadding":35,"labelFontSize":47,"labelOverlap":false,"title":"10³Cℓ  (C₀ = 4π)","titleFontSize":51,"titlePadding":10}}
},
"layer":[
{"data":{"values":[{"x":-2.6,"x2":-2.333,"y":-1.6,"y2":6.149}]},
"mark":{"type":"rect","fill":"#dcdcdc"},"encoding":{"x2":{"field":"x2"},"y2":{"field":"y2"}}},
{"data":{"name":"band2"},"mark":{"type":"rect","fill":"#d3d3d3"},"encoding":{"x2":{"field":"x2"},"y2":{"field":"y2"}}},
{"data":{"name":"hatch2"},"mark":{"type":"rect","fill":{"gradient":"linear","x1":0,"y1":0,"x2":1.176,"y2":0.706,"stops":[
{"offset":0,"color":"rgba(0,0,0,0)"},
{"offset":0.086,"color":"rgba(0,0,0,0)"},{"offset":0.086,"color":"rgba(30,30,30,0.8)"},{"offset":0.114,"color":"rgba(30,30,30,0.8)"},{"offset":0.114,"color":"rgba(0,0,0,0)"},
{"offset":0.286,"color":"rgba(0,0,0,0)"},{"offset":0.286,"color":"rgba(30,30,30,0.8)"},{"offset":0.314,"color":"rgba(30,30,30,0.8)"},{"offset":0.314,"color":"rgba(0,0,0,0)"},
{"offset":0.486,"color":"rgba(0,0,0,0)"},{"offset":0.486,"color":"rgba(30,30,30,0.8)"},{"offset":0.514,"color":"rgba(30,30,30,0.8)"},{"offset":0.514,"color":"rgba(0,0,0,0)"},
{"offset":0.686,"color":"rgba(0,0,0,0)"},{"offset":0.686,"color":"rgba(30,30,30,0.8)"},{"offset":0.714,"color":"rgba(30,30,30,0.8)"},{"offset":0.714,"color":"rgba(0,0,0,0)"},
{"offset":0.886,"color":"rgba(0,0,0,0)"},{"offset":0.886,"color":"rgba(30,30,30,0.8)"},{"offset":0.914,"color":"rgba(30,30,30,0.8)"},{"offset":0.914,"color":"rgba(0,0,0,0)"},
{"offset":1,"color":"rgba(0,0,0,0)"}]}},"encoding":{"x2":{"field":"x2"},"y2":{"field":"y2"}}},
{"data":{"name":"hatch2"},"mark":{"type":"rect","fill":{"gradient":"linear","x1":1,"y1":0,"x2":-0.176,"y2":0.706,"stops":[
{"offset":0,"color":"rgba(0,0,0,0)"},
{"offset":0.086,"color":"rgba(0,0,0,0)"},{"offset":0.086,"color":"rgba(30,30,30,0.8)"},{"offset":0.114,"color":"rgba(30,30,30,0.8)"},{"offset":0.114,"color":"rgba(0,0,0,0)"},
{"offset":0.286,"color":"rgba(0,0,0,0)"},{"offset":0.286,"color":"rgba(30,30,30,0.8)"},{"offset":0.314,"color":"rgba(30,30,30,0.8)"},{"offset":0.314,"color":"rgba(0,0,0,0)"},
{"offset":0.486,"color":"rgba(0,0,0,0)"},{"offset":0.486,"color":"rgba(30,30,30,0.8)"},{"offset":0.514,"color":"rgba(30,30,30,0.8)"},{"offset":0.514,"color":"rgba(0,0,0,0)"},
{"offset":0.686,"color":"rgba(0,0,0,0)"},{"offset":0.686,"color":"rgba(30,30,30,0.8)"},{"offset":0.714,"color":"rgba(30,30,30,0.8)"},{"offset":0.714,"color":"rgba(0,0,0,0)"},
{"offset":0.886,"color":"rgba(0,0,0,0)"},{"offset":0.886,"color":"rgba(30,30,30,0.8)"},{"offset":0.914,"color":"rgba(30,30,30,0.8)"},{"offset":0.914,"color":"rgba(0,0,0,0)"},
{"offset":1,"color":"rgba(0,0,0,0)"}]}},"encoding":{"x2":{"field":"x2"},"y2":{"field":"y2"}}},
{"data":{"name":"red"},"mark":{"type":"line","interpolate":"step-after","color":"#e8262a","strokeWidth":2}},
{"data":{"name":"reddot"},"mark":{"type":"line","interpolate":"step-after","color":"#e8262a","strokeWidth":2,"strokeDash":[2,4]}},
{"data":{"values":[
{"x":0.5,"y":0,"x2":20.5,"y2":0},
{"x":0.5,"y":0,"x2":0.5,"y2":5.4}]},
"mark":{"type":"rule","color":"black","strokeWidth":2},"encoding":{"x2":{"field":"x2"},"y2":{"field":"y2"}}},
{"data":{"name":"cl"},"mark":{"type":"square","filled":true,"color":"black","size":300,"opacity":1}},
{"data":{"values":[{"x":7.942,"y":5.84,"t":"10 EeV"},{"x":8.93,"y":5.525,"t":"8.53 EeV ≤"}]},
"mark":{"type":"text","align":"right","baseline":"alphabetic","fontSize":36,"font":"Liberation Serif","color":"black"},"encoding":{"text":{"field":"t"}}},
{"data":{"values":[{"x":9.993,"y":5.84,"t":"TA\nAuger"},{"x":13.185,"y":5.84,"t":"19.3 EeV\n16 EeV"}]},
"mark":{"type":"text","align":"left","baseline":"alphabetic","fontSize":36,"lineHeight":30,"lineBreak":"\n","font":"Liberation Serif","color":"black"},"encoding":{"text":{"field":"t"}}},
{"data":{"values":[{"x":9.0,"y":5.525,"t":"E"}]},
"mark":{"type":"text","align":"left","baseline":"alphabetic","fontSize":64,"fontStyle":"italic","font":"Liberation Serif","color":"black"},"encoding":{"text":{"field":"t"}}},
{"data":{"values":[{"x":12.34,"y":5.629,"t":"<"}]},
"mark":{"type":"text","align":"left","baseline":"alphabetic","fontSize":46,"font":"Liberation Serif","color":"black"},"encoding":{"text":{"field":"t"}}},
{"data":{"values":[{"x":16.25,"y":4.651,"t":"mean ± st. dev."},{"x":16.25,"y":4.11,"t":"99% CL isotropy"}]},
"mark":{"type":"text","align":"right","baseline":"alphabetic","fontSize":50,"font":"Liberation Serif","color":"black"},"encoding":{"text":{"field":"t"}}}
]
},
{
"data":{"values":[
{"x":0.5,"y":5.4,"x2":20.5,"y2":5.4},
{"x":20.5,"y":0,"x2":20.5,"y2":5.4}]},
"mark":{"type":"rule","color":"black","strokeWidth":2},
"encoding":{
"x":{"field":"x","type":"quantitative","scale":{"domain":[0.5,20.5],"range":[137,1083],"nice":false,"zero":false},
"axis":{"orient":"top","offset":-1034,"values":[1,2,3,4,5,6,7,8,9,10,11,12,13,14,15,16,17,18,19,20],"labels":false,"domain":false,"tickWidth":1.5,"tickSize":{"condition":{"test":"datum.value % 5 == 0","value":-22},"value":-10},"title":null}},
"y":{"field":"y","type":"quantitative","scale":{"domain":[0,5.4],"range":[1553,1034],"nice":false,"zero":false},
"axis":{"orient":"right","offset":-11,"values":[0,1,2,3,4,5],"labels":false,"domain":false,"tickWidth":1.5,"tickSize":-21,"title":null}},
"x2":{"field":"x2"},"y2":{"field":"y2"}
}
}
],
"resolve":{"axis":{"x":"independent","y":"independent"}}
},
{
"encoding":{
"x":{"field":"x","type":"quantitative","scale":{"domain":[18,20.5],"range":[1074,2274],"nice":false,"zero":false},
"axis":{"orient":"bottom","offset":-559,"labels":false,"ticks":false,"domain":true,"domainWidth":1.5,"title":null,"zindex":1}},
"y":{"field":"y","type":"quantitative","scale":{"type":"log","domain":[5e35,1e38],"range":[1127,550],"nice":false},
"axis":{"orient":"left","offset":-1074,"values":[6e35,7e35,8e35,9e35,1e36,2e36,3e36,4e36,5e36,6e36,7e36,8e36,9e36,1e37,2e37,3e37,4e37,5e37,6e37,7e37,8e37,9e37,1e38],
"labelExpr":"datum.value == 1e36 ? '10³⁶' : datum.value == 1e37 ? '10³⁷' : datum.value == 1e38 ? '10³⁸' : ''",
"tickSize":{"condition":{"test":"datum.value == 1e36 || datum.value == 1e37 || datum.value == 1e38","value":9},"value":5},
"tickWidth":1.3,"labelPadding":13,"labelFont":"DejaVu Sans","labelFontSize":29,"labelOverlap":false,"domain":true,"domainWidth":1.5,
"title":"J · E³ [eV² km⁻² sr⁻¹ yr⁻¹]","titleFont":"Liberation Serif","titleFontSize":40,"titlePadding":16,"zindex":1}}
},
"layer":[
{"data":{"values":[{"x":17.6417,"x2":18.1,"y":1.774e35,"y2":1.2812e38}]},
"mark":{"type":"rect","fill":"white"},"encoding":{"x2":{"field":"x2"},"y2":{"field":"y2"}}},
{"data":{"values":[{"x":18.031,"x2":18.3,"y":5.87e35,"y2":5.46e36}]},
"mark":{"type":"rect","fill":"white","stroke":"#cccccc","strokeWidth":1.5,"cornerRadius":5},"encoding":{"x2":{"field":"x2"},"y2":{"field":"y2"}}},
{"data":{"values":[{"x":18,"y":1e38,"x2":20.5,"y2":1e38}]},
"mark":{"type":"rule","color":"black","strokeWidth":1.5},"encoding":{"x2":{"field":"x2"},"y2":{"field":"y2"}}},
{"data":{"values":[{"i":0,"x":18.002,"y":3.94e37},{"i":1,"x":18.002,"y":6.71e37},{"i":2,"x":18.035,"y":6.71e37},{"i":3,"x":18.3,"y":6.3e37}]},
"mark":{"type":"line","color":"#8b4a3c","strokeWidth":2},"encoding":{"order":{"field":"i","type":"quantitative"}}},
{"data":{"values":[{"x":18.002,"y":3.94e37},{"x":18.3,"y":3.4e37}]},
"mark":{"type":"line","color":"#e8262a","strokeWidth":2.5}},
{"data":{"values":[{"x":18.0,"y":3.31e37},{"x":18.042,"y":3.94e37},{"x":18.3,"y":6.5e37}]},
"mark":{"type":"line","color":"#111111","strokeWidth":2.5}},
{"data":{"values":[{"x":18.035,"y":6.71e37}]},
"mark":{"type":"point","filled":true,"color":"black","size":70,"opacity":1}}
]
}
],
"resolve":{"scale":{"x":"independent","y":"independent"}}
}
